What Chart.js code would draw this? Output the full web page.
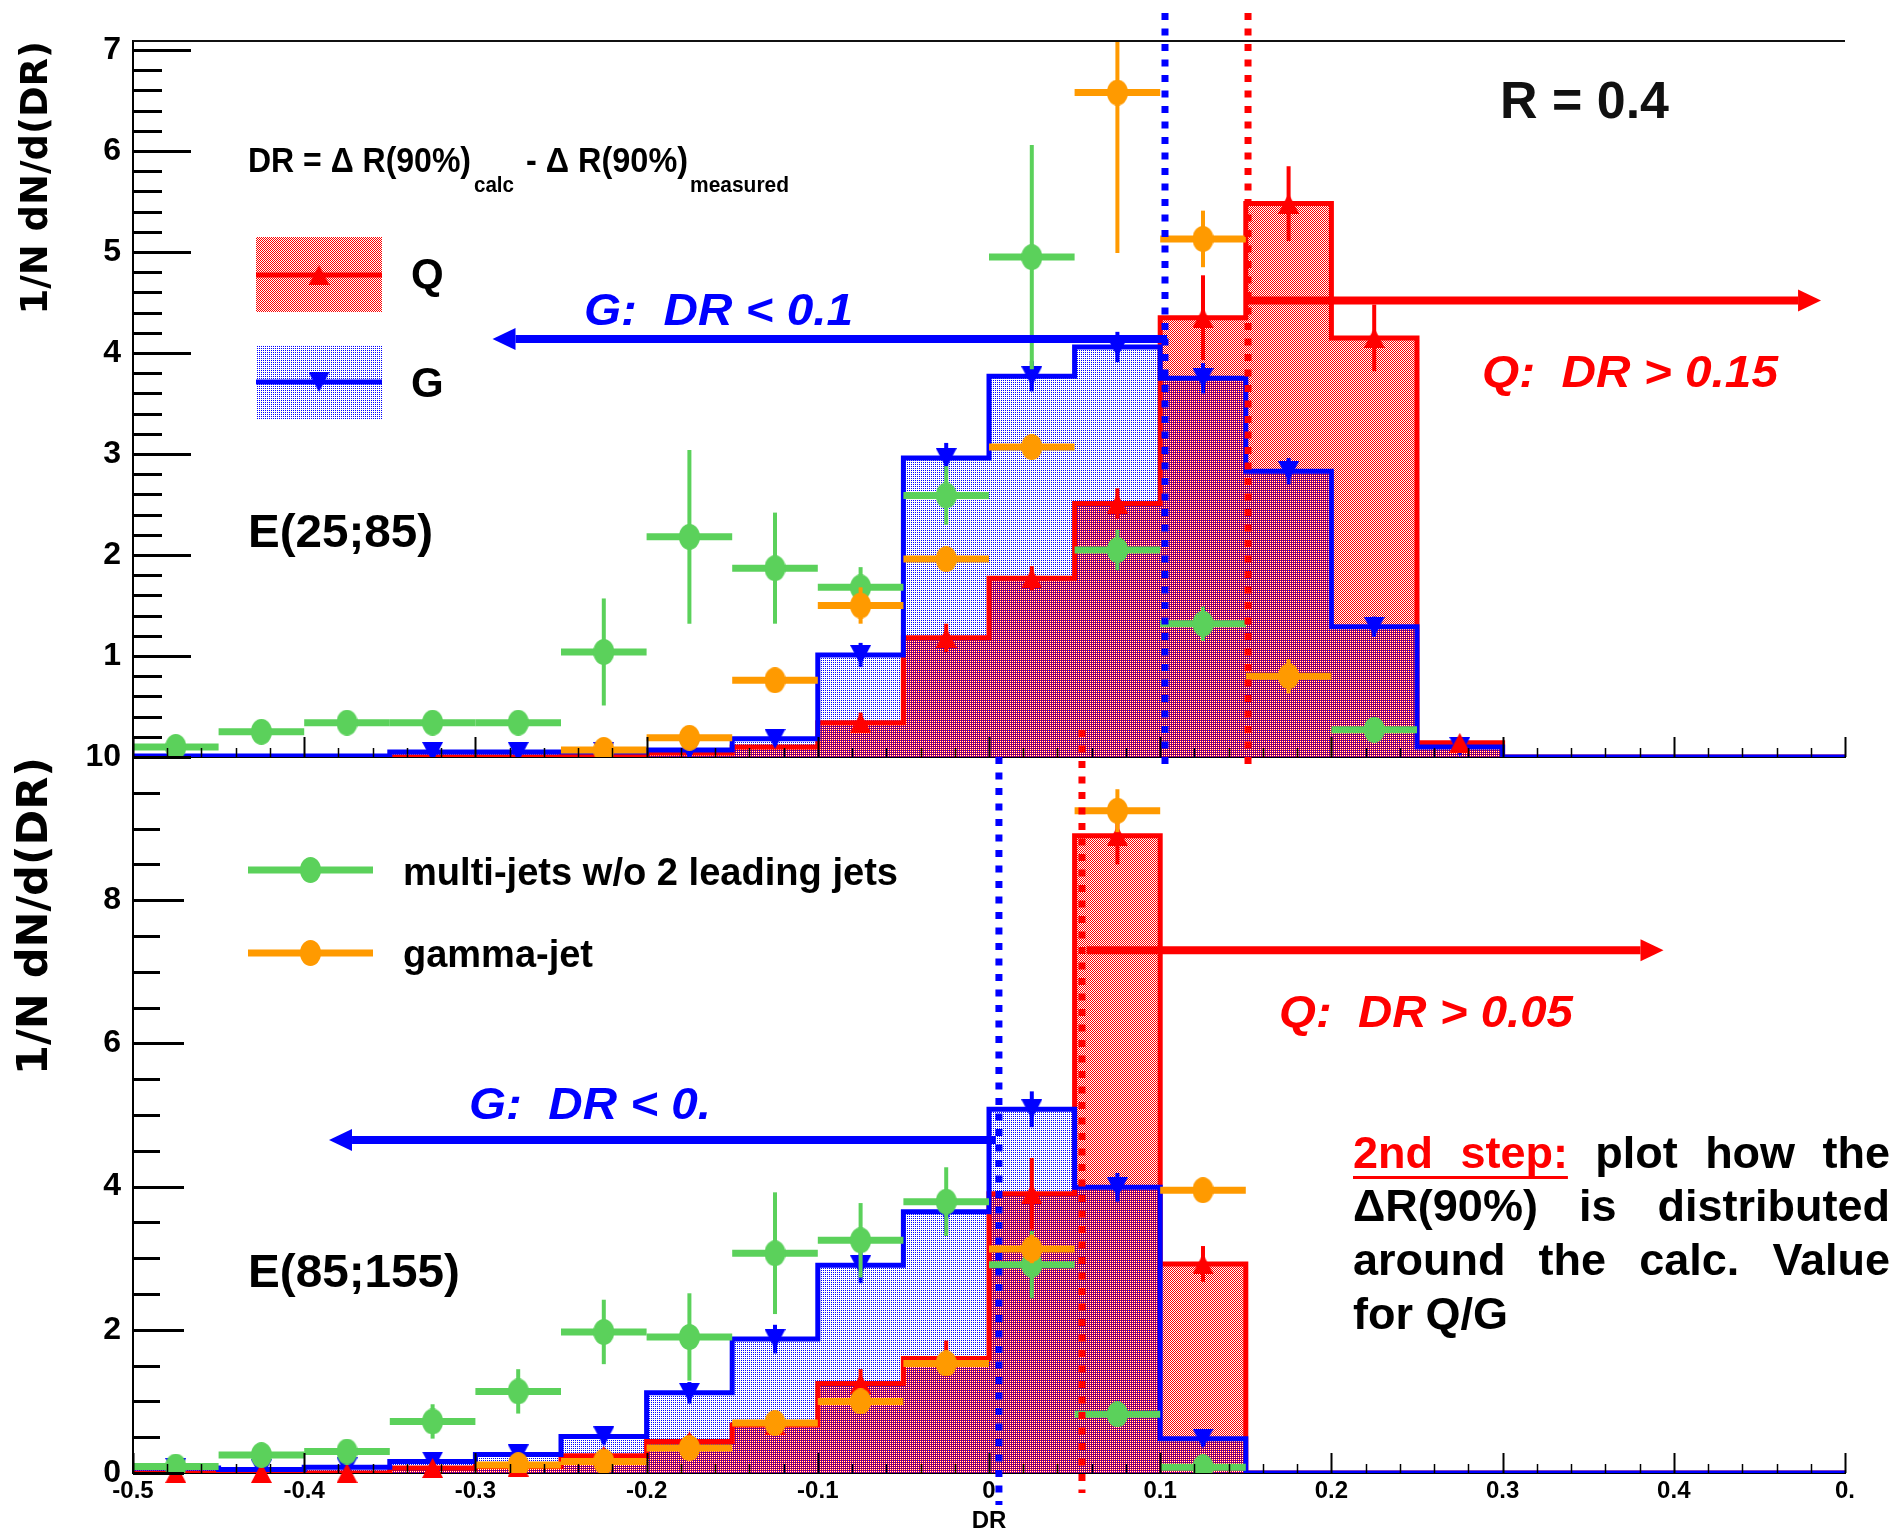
<!DOCTYPE html>
<html><head><meta charset="utf-8"><title>DR distributions Q/G</title>
<script src="https://cdn.jsdelivr.net/npm/chart.js@4.4.1/dist/chart.umd.min.js"></script>
<style>
html,body{margin:0;padding:0;background:#fff;overflow:hidden}
#wrap{position:relative;width:1897px;height:1537px}
#wrap canvas{position:absolute;left:0;top:0}
</style></head><body>
<div id="wrap"><canvas id="cTop" width="1897" height="1537"></canvas><canvas id="cBot" width="1897" height="1537"></canvas></div>
<script>
// ================= DATA =================
const binCenters = [-0.475,-0.425,-0.375,-0.325,-0.275,-0.225,-0.175,-0.125,-0.075,-0.025,0.025,0.075,0.125,0.175,0.225,0.275,0.325,0.375,0.425,0.475];
const binWidth = 0.05;

// Top panel: E(25;85)
const qTop        = [0, 0, 0, 0, 0, 0.01, 0.04, 0.10, 0.34, 1.18, 1.77, 2.51, 4.35, 5.48, 4.15, 0.14, 0, 0, 0, 0];
const qTopErr     = [0, 0, 0, 0, 0, 0, 0.02, 0.05, 0.10, 0.14, 0.12, 0.15, 0.42, 0.37, 0.33, 0.05, 0, 0, 0, 0];
const gTop        = [0.01, 0.01, 0.01, 0.05, 0.05, 0.05, 0.07, 0.18, 1.01, 2.96, 3.77, 4.06, 3.75, 2.83, 1.29, 0.10, 0, 0, 0, 0];
const gTopErr     = [0, 0, 0, 0.03, 0.03, 0.03, 0.04, 0.06, 0.12, 0.15, 0.15, 0.15, 0.15, 0.13, 0.10, 0.04, 0, 0, 0, 0];
const multiTop    = [0.10, 0.25, 0.34, 0.34, 0.34, 1.04, 2.18, 1.87, 1.68, 2.59, 4.95, 2.05, 1.32, null, 0.27, null, null, null, null, null];
const multiTopErr = [0.05, 0.06, 0.07, 0.07, 0.07, 0.53, 0.86, 0.55, 0.20, 0.29, 1.11, 0.20, 0.17, null, 0.07, null, null, null, null, null];
const gammaTop    = [null, null, null, null, null, 0.07, 0.19, 0.76, 1.50, 1.96, 3.07, 6.58, 5.13, 0.80, null, null, null, null, null, null];
const gammaTopErr = [null, null, null, null, null, 0.06, 0.09, 0.10, 0.18, 0.08, 0.10, 1.59, 0.28, 0.17, null, null, null, null, null, null];

// Bottom panel: E(85;155)
const qBot        = [0, 0, 0, 0.07, 0.09, 0.24, 0.44, 0.67, 1.25, 1.60, 3.90, 8.90, 2.92, 0, 0, 0, 0, 0, 0, 0];
const qBotErr     = [0, 0, 0, 0.03, 0.04, 0.06, 0.10, 0.13, 0.20, 0.25, 0.50, 0.40, 0.25, 0, 0, 0, 0, 0, 0, 0];
const gBot        = [0.07, 0.05, 0.08, 0.16, 0.26, 0.51, 1.12, 1.87, 2.90, 3.65, 5.08, 3.99, 0.48, 0, 0, 0, 0, 0, 0, 0];
const gBotErr     = [0.03, 0.03, 0.03, 0.05, 0.07, 0.10, 0.15, 0.20, 0.25, 0.30, 0.25, 0.20, 0.10, 0, 0, 0, 0, 0, 0, 0];
const multiBot    = [0.09, 0.25, 0.30, 0.72, 1.14, 1.97, 1.90, 3.07, 3.25, 3.79, 2.91, 0.82, 0.08, null, null, null, null, null, null, null];
const multiBotErr = [0.05, 0.10, 0.12, 0.24, 0.31, 0.45, 0.61, 0.85, 0.52, 0.48, 0.47, 0.15, 0.10, null, null, null, null, null, null, null];
const gammaBot    = [null, null, null, null, 0.11, 0.16, 0.35, 0.70, 1.00, 1.53, 3.13, 9.25, 3.95, null, null, null, null, null, null, null];
const gammaBotErr = [null, null, null, null, 0.08, 0.10, 0.12, 0.10, 0.10, 0.15, 0.20, 0.30, 0.10, null, null, null, null, null, null, null];

// Tick labels
const xTickLabels    = ['-0.5','-0.4','-0.3','-0.2','-0.1','0','0.1','0.2','0.3','0.4','0.'];
const topYTickLabels = ['1','2','3','4','5','6','7'];
const botYTickLabels = ['0','2','4','6','8','10'];

// Cut annotations (DR values)
const cutsTop   = [0.1028, 0.1513];          // G cut, Q cut
const cutsBot   = [0.0058, 0.0543];
const arrowsTop = [[0.104, -0.290, 4.14], [0.151, 0.486, 4.52]];   // [from, to, level]
const arrowsBot = [[0.004, -0.3855, 4.65], [0.057, 0.394, 7.30]];

// ================= STYLE =================
const RED = '#ff0000', BLUE = '#0000ff', GREEN = '#5bd15b', ORANGE = '#ff9a00';
const SANS = "'Liberation Sans', Arial, Helvetica, sans-serif";

function pattern(color, pix) {
  const c = document.createElement('canvas'); c.width = 2; c.height = 2;
  const g = c.getContext('2d'); g.fillStyle = color;
  pix.forEach(p => g.fillRect(p[0], p[1], 1, 1));
  return g.createPattern(c, 'repeat');
}
const redFill = pattern(RED, [[0,0],[1,1]]);
const blueFill = pattern(BLUE, [[1,0]]);

function markerImg(kind, color) {
  const c = document.createElement('canvas');
  const g = c.getContext('2d');
  if (kind === 'ellipse') {
    c.width = 21; c.height = 26; g.fillStyle = color;
    g.beginPath(); g.ellipse(10.5, 13, 10.5, 13, 0, 0, Math.PI * 2); g.fill();
  } else {
    c.width = 21; c.height = 20; g.fillStyle = color; g.beginPath();
    if (kind === 'up') { g.moveTo(10.5, 0); g.lineTo(21, 20); g.lineTo(0, 20); }
    else { g.moveTo(0, 0); g.lineTo(21, 0); g.lineTo(10.5, 20); }
    g.closePath(); g.fill();
  }
  return c;
}
const mkGreen = markerImg('ellipse', GREEN), mkOrange = markerImg('ellipse', ORANGE);
const mkQ = markerImg('up', RED), mkG = markerImg('down', BLUE);

// ================= HELPERS =================
function histData(vals) {
  const pts = binCenters.map((c, i) => ({x: c - binWidth / 2, y: vals[i]}));
  pts.push({x: binCenters[binCenters.length - 1] + binWidth / 2, y: vals[vals.length - 1]});
  return pts;
}
function pointData(vals, errs, keep) {
  const out = [];
  binCenters.forEach((c, i) => {
    if (vals[i] === null || vals[i] === undefined) return;
    if (keep && !keep(vals[i], i)) return;
    out.push({x: c, y: vals[i], e: errs[i] || 0});
  });
  return out;
}
function histDs(vals, color, fill, order) {
  return {type: 'line', data: histData(vals), stepped: true, fill: 'origin', backgroundColor: fill,
    borderColor: color, borderWidth: 5, pointRadius: 0, borderJoinStyle: 'miter', order};
}
function markDs(data, img, color, order, extra) {
  return Object.assign({type: 'scatter', data, pointStyle: img, pointRadius: 10, showLine: false,
    backgroundColor: color, borderColor: color, order, errColor: color}, extra || {});
}

const errorBars = {
  id: 'errorBars',
  beforeDatasetDraw(chart, args) {
    const ds = chart.data.datasets[args.index];
    if (!ds.errColor) return;
    const {ctx, chartArea: a, scales: {x, y}} = chart;
    ctx.save();
    ctx.beginPath(); ctx.rect(a.left, a.top, a.right - a.left, a.bottom - a.top); ctx.clip();
    ctx.strokeStyle = ds.errColor; ctx.lineCap = 'butt';
    ds.data.forEach(p => {
      const px = x.getPixelForValue(p.x), py = y.getPixelForValue(p.y);
      if (ds.hbar) {
        ctx.lineWidth = 7; ctx.beginPath();
        ctx.moveTo(x.getPixelForValue(p.x - binWidth / 2), py);
        ctx.lineTo(x.getPixelForValue(p.x + binWidth / 2), py); ctx.stroke();
      }
      if (p.e > 0) {
        ctx.lineWidth = 4; ctx.beginPath();
        ctx.moveTo(px, y.getPixelForValue(p.y + p.e));
        ctx.lineTo(px, y.getPixelForValue(p.y - p.e)); ctx.stroke();
      }
    });
    ctx.restore();
  }
};

function insideTicks(chart, yMax, yMajor, yMinor, majLen, minLen) {
  const {ctx, chartArea: a, scales: {x, y}} = chart;
  ctx.save(); ctx.strokeStyle = '#000';
  const nY = Math.round(yMax / yMinor);
  for (let i = 0; i <= nY; i++) {
    const v = i * yMinor;
    const major = Math.abs(v / yMajor - Math.round(v / yMajor)) < 1e-6;
    const py = Math.round(y.getPixelForValue(v)) + 0.5;
    ctx.lineWidth = 3; ctx.beginPath();
    ctx.moveTo(a.left, py); ctx.lineTo(a.left + (major ? majLen : minLen), py); ctx.stroke();
  }
  for (let i = 0; i <= 50; i++) {
    const v = -0.5 + i * 0.02;
    const px = Math.round(x.getPixelForValue(v)) + 0.5;
    const major = i % 5 === 0;
    ctx.lineWidth = major ? 2 : 1.5; ctx.beginPath();
    ctx.moveTo(px, a.bottom); ctx.lineTo(px, a.bottom - (major ? 20 : 9)); ctx.stroke();
  }
  ctx.restore();
}
function dotted(ctx, px, y1, y2, color) {
  ctx.save(); ctx.strokeStyle = color; ctx.lineWidth = 7; ctx.setLineDash([7, 8.5]); ctx.lineCap = 'butt';
  ctx.beginPath(); ctx.moveTo(px, y1); ctx.lineTo(px, y2); ctx.stroke(); ctx.restore();
}
function arrow(ctx, x1, x2, y, color) {
  const dir = Math.sign(x2 - x1), head = 23, hh = 11;
  ctx.save(); ctx.strokeStyle = color; ctx.fillStyle = color; ctx.lineWidth = 8;
  ctx.beginPath(); ctx.moveTo(x1, y); ctx.lineTo(x2 - dir * head, y); ctx.stroke();
  ctx.beginPath(); ctx.moveTo(x2, y); ctx.lineTo(x2 - dir * head, y - hh); ctx.lineTo(x2 - dir * head, y + hh);
  ctx.closePath(); ctx.fill(); ctx.restore();
}
function text(ctx, s, x, y, o) {
  ctx.save();
  ctx.font = (o.italic ? 'italic ' : '') + 'bold ' + o.size + 'px ' + (o.family || SANS);
  ctx.fillStyle = o.color || '#000'; ctx.textBaseline = 'alphabetic'; ctx.textAlign = 'left';
  const w = ctx.measureText(s).width;
  const sx = o.w ? o.w / w : 1;
  ctx.translate(x, y); ctx.scale(sx, 1); ctx.fillText(s, 0, 0); ctx.restore();
  return w * sx;
}
function legendLine(ctx, x1, x2, y, color, img, lw) {
  ctx.save(); ctx.strokeStyle = color; ctx.lineWidth = lw;
  ctx.beginPath(); ctx.moveTo(x1, y); ctx.lineTo(x2, y); ctx.stroke();
  const cx = (x1 + x2) / 2;
  ctx.drawImage(img, cx - img.width / 2, y - img.height / 2);
  ctx.restore();
}

const topDeco = {
  id: 'topDeco',
  afterDatasetsDraw(chart) { insideTicks(chart, 7, 1, 0.2, 58, 29); },
  afterDraw(chart) {
    const {ctx, chartArea: a, scales: {x, y}} = chart;
    ctx.save(); ctx.strokeStyle = '#111'; ctx.lineWidth = 2;
    ctx.beginPath(); ctx.moveTo(a.left, a.top); ctx.lineTo(a.right, a.top); ctx.stroke(); ctx.restore();
    dotted(ctx, x.getPixelForValue(cutsTop[0]), a.top - 28, a.bottom + 15, BLUE);
    dotted(ctx, x.getPixelForValue(cutsTop[1]), a.top - 28, a.bottom + 15, RED);
    arrow(ctx, x.getPixelForValue(arrowsTop[0][0]), x.getPixelForValue(arrowsTop[0][1]), y.getPixelForValue(arrowsTop[0][2]), BLUE);
    arrow(ctx, x.getPixelForValue(arrowsTop[1][0]), x.getPixelForValue(arrowsTop[1][1]), y.getPixelForValue(arrowsTop[1][2]), RED);
    text(ctx, 'R = 0.4', 1500, 118, {size: 51, w: 169, color: '#111'});
    text(ctx, 'DR = \u0394 R(90%)', 248, 172, {size: 35, w: 223});
    text(ctx, 'calc', 474, 192, {size: 22, w: 40});
    text(ctx, '- \u0394 R(90%)', 526, 172, {size: 35, w: 162});
    text(ctx, 'measured', 690, 192, {size: 22, w: 99});
    text(ctx, 'G:  DR < 0.1', 584, 325, {size: 44, w: 269, italic: true, color: BLUE});
    text(ctx, 'Q:  DR > 0.15', 1482, 387, {size: 44, w: 296, italic: true, color: RED});
    text(ctx, 'E(25;85)', 248, 547, {size: 46, w: 185});
    // legend Q / G
    ctx.save();
    ctx.fillStyle = redFill; ctx.fillRect(256, 237, 126, 75);
    ctx.fillStyle = blueFill; ctx.fillRect(256, 345, 126, 75);
    ctx.restore();
    legendLine(ctx, 256, 382, 275, RED, mkQ, 5);
    legendLine(ctx, 256, 382, 382, BLUE, mkG, 5);
    text(ctx, 'Q', 411, 288, {size: 42});
    text(ctx, 'G', 411, 397, {size: 42});
  }
};

const botDeco = {
  id: 'botDeco',
  afterDatasetsDraw(chart) { insideTicks(chart, 10, 2, 0.5, 51, 27); },
  afterDraw(chart) {
    const {ctx, chartArea: a, scales: {x, y}} = chart;
    dotted(ctx, x.getPixelForValue(cutsBot[0]), a.top, a.bottom + 32, BLUE);
    dotted(ctx, x.getPixelForValue(cutsBot[1]), a.top - 27, a.bottom + 20, RED);
    arrow(ctx, x.getPixelForValue(arrowsBot[0][0]), x.getPixelForValue(arrowsBot[0][1]), y.getPixelForValue(arrowsBot[0][2]), BLUE);
    arrow(ctx, x.getPixelForValue(arrowsBot[1][0]), x.getPixelForValue(arrowsBot[1][1]), y.getPixelForValue(arrowsBot[1][2]), RED);
    text(ctx, 'Q:  DR > 0.05', 1279, 1027, {size: 44, w: 294, italic: true, color: RED});
    text(ctx, 'G:  DR < 0.', 469, 1119, {size: 44, w: 242, italic: true, color: BLUE});
    text(ctx, 'E(85;155)', 248, 1287, {size: 47, w: 212});
    legendLine(ctx, 248, 373, 870, GREEN, mkGreen, 7);
    legendLine(ctx, 248, 373, 953, ORANGE, mkOrange, 7);
    text(ctx, 'multi-jets w/o 2 leading jets', 403, 885, {size: 38, w: 495});
    text(ctx, 'gamma-jet', 403, 967, {size: 38, w: 190});
    // justified note
    const lines = [
      [['2nd', RED], ['step:', RED], ['plot'], ['how'], ['the']],
      [['\u0394R(90%)'], ['is'], ['distributed']],
      [['around'], ['the'], ['calc.'], ['Value']],
      [['for Q/G']]
    ];
    const base = [1168, 1221, 1275, 1329], L = 1353, W = 537;
    ctx.save(); ctx.font = 'bold 45px ' + SANS;
    lines.forEach((ln, li) => {
      const ws = ln.map(wd => ctx.measureText(wd[0]).width);
      const tot = ws.reduce((s, v) => s + v, 0);
      const gap = ln.length > 1 ? (W - tot) / (ln.length - 1) : 0;
      let cx = L;
      ln.forEach((wd, wi) => {
        ctx.fillStyle = wd[1] || '#000';
        ctx.fillText(wd[0], cx, base[li]);
        if (li === 0 && wi === 1) {
          ctx.fillRect(L, base[0] + 8, cx + ws[wi] - L, 3);
        }
        cx += ws[wi] + gap;
      });
    });
    ctx.restore();
  }
};

function baseOptions(pad, yMax, yTickValues, yCb, yTitleSize, yTitlePad, xShow) {
  return {
    responsive: false, animation: false, devicePixelRatio: 1, events: [],
    layout: {padding: pad},
    plugins: {legend: {display: false}, tooltip: {enabled: false}, filler: {drawTime: 'beforeDatasetsDraw'}},
    scales: {
      x: {type: 'linear', min: -0.5, max: 0.5,
        ticks: {display: xShow, stepSize: 0.1, padding: 4, color: '#000', autoSkip: false, maxRotation: 0,
          font: {family: SANS, weight: 'bold', size: 24},
          callback: (v) => xTickLabels[Math.round((v + 0.5) * 10)]},
        grid: {display: false, drawTicks: false},
        border: {display: true, color: '#000', width: 2},
        title: {display: xShow, text: 'DR', color: '#000', font: {family: SANS, weight: 'bold', size: 24}, padding: {top: 0, bottom: 1}},
        afterFit: (s) => { s.height = xShow ? 64 : 0; }},
      y: {type: 'linear', min: 0, max: yMax,
        ticks: {padding: 12, color: '#000', autoSkip: false, font: {family: SANS, weight: 'bold', size: 32}, callback: yCb},
        grid: {display: false, drawTicks: false},
        border: {display: true, color: '#000', width: 2},
        title: {display: true, text: '1/N dN/d(DR)', align: 'end', color: '#000',
          font: {family: "'DejaVu Sans', sans-serif", weight: 'bold', size: yTitleSize}, padding: {top: yTitlePad, bottom: 0}},
        afterBuildTicks: (s) => { s.ticks = yTickValues.map(v => ({value: v})); },
        afterFit: (s) => { s.width = 123; }}
    }
  };
}

const topTickValues = topYTickLabels.map(Number);
const botTickValues = botYTickLabels.map(Number);

new Chart(document.getElementById('cTop'), {
  type: 'line',
  data: {datasets: [
    histDs(gTop, BLUE, blueFill, 10),
    histDs(qTop, RED, redFill, 11),
    markDs(pointData(gTop, gTopErr, v => v > 0.03), mkG, BLUE, 6),
    markDs(pointData(qTop, qTopErr, v => v > 0.12), mkQ, RED, 5),
    markDs(pointData(multiTop, multiTopErr), mkGreen, GREEN, 2, {hbar: true}),
    markDs(pointData(gammaTop, gammaTopErr), mkOrange, ORANGE, 1, {hbar: true})
  ]},
  options: baseOptions({left: 10, right: 52, top: 41, bottom: 780}, 7.09, topTickValues,
    (v) => topYTickLabels[topTickValues.indexOf(v)], 37, 5, false),
  plugins: [errorBars, topDeco]
});

new Chart(document.getElementById('cBot'), {
  type: 'line',
  data: {datasets: [
    histDs(gBot, BLUE, blueFill, 10),
    histDs(qBot, RED, redFill, 11),
    markDs(pointData(gBot, gBotErr, (v, i) => i <= 12), mkG, BLUE, 6),
    markDs(pointData(qBot, qBotErr, (v, i) => i <= 12), mkQ, RED, 5, {clip: false}),
    markDs(pointData(multiBot, multiBotErr), mkGreen, GREEN, 2, {hbar: true}),
    markDs(pointData(gammaBot, gammaBotErr), mkOrange, ORANGE, 1, {hbar: true})
  ]},
  options: baseOptions({left: 10, right: 52, top: 757, bottom: 0}, 10, botTickValues,
    (v) => botYTickLabels[botTickValues.indexOf(v)], 43, 0, true),
  plugins: [errorBars, botDeco]
});
</script>
</body></html>
